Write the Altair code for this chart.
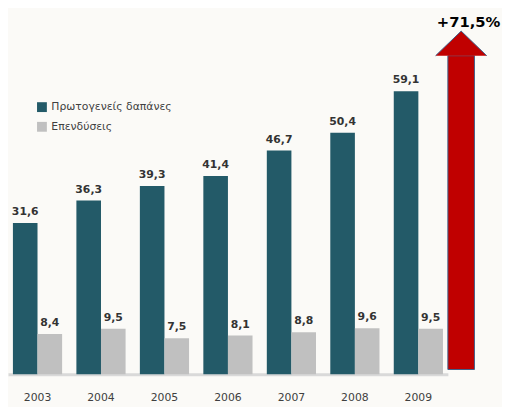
import altair as alt
import pandas as pd

years = ["2003", "2004", "2005", "2006", "2007", "2008", "2009"]
primary = [31.6, 36.3, 39.3, 41.4, 46.7, 50.4, 59.1]
investment = [8.4, 9.5, 7.5, 8.1, 8.8, 9.6, 9.5]
series_names = ["Πρωτογενείς δαπάνες", "Επενδύσεις"]
colors = ["#235a68", "#c0c0c0"]
growth_label = "+71,5%"
arrow_bottom = [1.0]
arrow_head_base = [66.5]

rows = []
for i, yr in enumerate(years):
    rows.append({"year": yr, "series": series_names[0], "value": primary[i]})
    rows.append({"year": yr, "series": series_names[1], "value": investment[i]})
df = pd.DataFrame(rows)

arrow_df = pd.DataFrame({"bottom": arrow_bottom, "top": arrow_head_base})

yscale = alt.Scale(domain=[0, 75.8], nice=False, zero=True)

x = alt.X(
    "year:N",
    sort=years,
    scale=alt.Scale(paddingInner=0.225, paddingOuter=0.0775),
    axis=alt.Axis(
        title=None, labelAngle=0, domainColor="#d9d9d9", domainWidth=3,
        ticks=False, labelFontSize=11, labelColor="#404040",
        labelPadding=18, labelFont="DejaVu Sans", grid=False,
    ),
)
xo = alt.XOffset("series:N", sort=series_names,
                 scale=alt.Scale(paddingInner=0, paddingOuter=0))
y = alt.Y("value:Q", scale=yscale, axis=None)

base = alt.Chart(df).transform_calculate(
    label="replace(format(datum.value, '.1f'), '.', ',')"
)

bars = base.mark_bar().encode(
    x=x, xOffset=xo, y=y,
    color=alt.Color(
        "series:N",
        scale=alt.Scale(domain=series_names, range=colors),
        legend=alt.Legend(
            orient="none", legendX=29, legendY=92, title=None,
            symbolType="square", symbolSize=100, symbolStrokeWidth=0,
            labelFontSize=11, labelColor="#404040", labelFont="DejaVu Sans",
            rowPadding=8, padding=0, labelOffset=4,
        ),
    ),
)

labels = base.mark_text(
    dy=-8, fontSize=11, fontWeight="bold", color="#333333",
    font="DejaVu Sans", baseline="alphabetic",
).encode(x=x, xOffset=xo, y=y, text="label:N")

shaft = alt.Chart(arrow_df).mark_bar(
    color="#c00000", stroke="#3d5f8a", strokeWidth=1
).encode(
    x=alt.value(447), x2=alt.value(474),
    y=alt.Y("bottom:Q", scale=yscale, axis=None),
    y2="top:Q",
)

head = alt.Chart(arrow_df).mark_point(
    shape="M-1,0L0,-0.962L1,0", size=2704, filled=True, opacity=1,
    fill="#c00000", stroke="#3d5f8a", strokeWidth=1,
).encode(
    x=alt.value(460.5),
    y=alt.Y("top:Q", scale=yscale, axis=None),
)

growth = alt.Chart(arrow_df).mark_text(
    text=growth_label, fontSize=15, fontWeight="bold", color="#000000",
    font="DejaVu Sans", baseline="alphabetic", align="center",
).encode(x=alt.value(468), y=alt.value(16))

chart = alt.layer(bars, labels, shaft, head, growth).properties(
    width=447, height=369,
    autosize=alt.AutoSizeParams(type="none"),
    padding={"left": 0, "top": 0, "right": 55, "bottom": 30},
    background="#fbfaf7",
).configure_view(strokeWidth=0)

chart.save("out.html", embed_options={"renderer": "svg", "actions": False})
